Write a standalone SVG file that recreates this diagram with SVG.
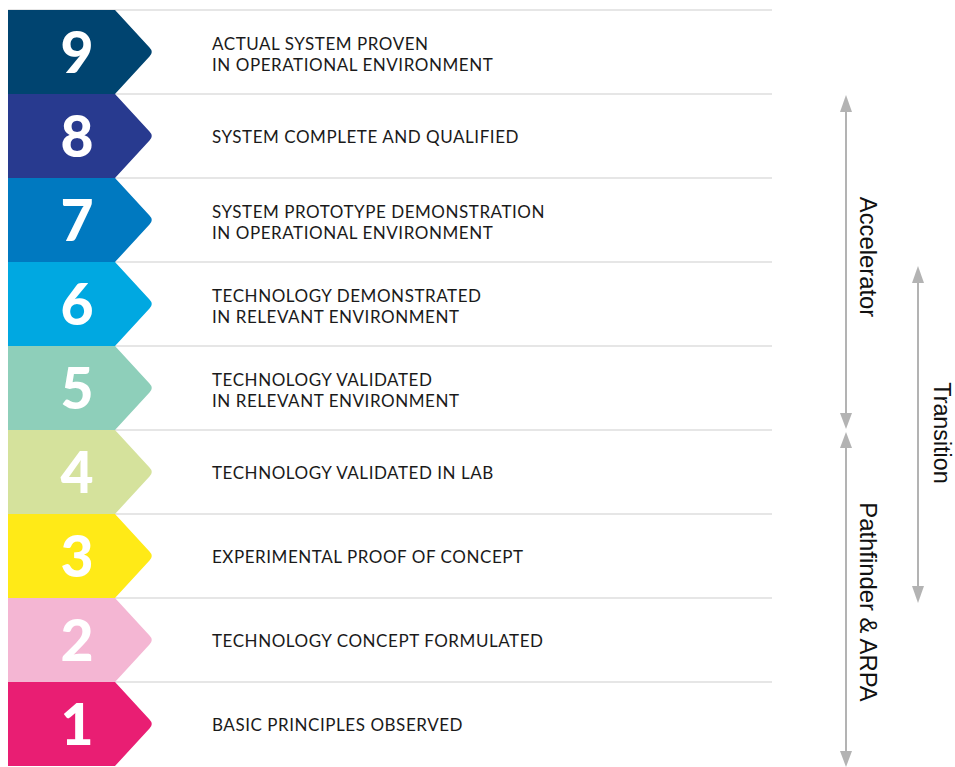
<svg xmlns="http://www.w3.org/2000/svg" width="955" height="767" viewBox="0 0 955 767">
<defs>
<style>
.sep{stroke:#e6e6e6;stroke-width:2}
.num{font-family:Lato,"Liberation Sans",sans-serif;font-weight:900;font-size:57px;fill:#fff;text-anchor:middle}
.lbl{font-family:"Lato","Liberation Sans",sans-serif;font-size:17px;letter-spacing:0.55px;fill:#1a1a1a}
.side{font-family:"Liberation Sans",Arial,sans-serif;font-size:23.8px;fill:#111;text-anchor:middle}
.arr{stroke:#b3b3b3;stroke-width:2;fill:none}
.head{fill:#b3b3b3}
</style>
<path id="chev" d="M0,0 H107 L141.5,37.5 Q146,42 141.5,46.5 L107,84 H0 Z"/>
</defs>
<rect width="955" height="767" fill="#fff"/>
<g id="separators">
<line class="sep" x1="8" y1="10" x2="772" y2="10"/>
<line class="sep" x1="8" y1="94" x2="772" y2="94"/>
<line class="sep" x1="8" y1="178" x2="772" y2="178"/>
<line class="sep" x1="8" y1="262" x2="772" y2="262"/>
<line class="sep" x1="8" y1="346" x2="772" y2="346"/>
<line class="sep" x1="8" y1="430" x2="772" y2="430"/>
<line class="sep" x1="8" y1="514" x2="772" y2="514"/>
<line class="sep" x1="8" y1="598" x2="772" y2="598"/>
<line class="sep" x1="8" y1="682" x2="772" y2="682"/>
</g>
<g id="level9" transform="translate(8,10)">
<use href="#chev" fill="#004470"/>
<text class="num" x="69" y="63">9</text>
<text class="lbl" x="204" y="40">ACTUAL SYSTEM PROVEN</text>
<text class="lbl" x="204" y="61">IN OPERATIONAL ENVIRONMENT</text>
</g>
<g id="level8" transform="translate(8,94)">
<use href="#chev" fill="#283a8f"/>
<text class="num" x="69" y="63">8</text>
<text class="lbl" x="204" y="49">SYSTEM COMPLETE AND QUALIFIED</text>
</g>
<g id="level7" transform="translate(8,178)">
<use href="#chev" fill="#0079c0"/>
<text class="num" x="69" y="63">7</text>
<text class="lbl" x="204" y="40">SYSTEM PROTOTYPE DEMONSTRATION</text>
<text class="lbl" x="204" y="61">IN OPERATIONAL ENVIRONMENT</text>
</g>
<g id="level6" transform="translate(8,262)">
<use href="#chev" fill="#00a8e1"/>
<text class="num" x="69" y="63">6</text>
<text class="lbl" x="204" y="40">TECHNOLOGY DEMONSTRATED</text>
<text class="lbl" x="204" y="61">IN RELEVANT ENVIRONMENT</text>
</g>
<g id="level5" transform="translate(8,346)">
<use href="#chev" fill="#8ecfba"/>
<text class="num" x="69" y="63">5</text>
<text class="lbl" x="204" y="40">TECHNOLOGY VALIDATED</text>
<text class="lbl" x="204" y="61">IN RELEVANT ENVIRONMENT</text>
</g>
<g id="level4" transform="translate(8,430)">
<use href="#chev" fill="#d5e29c"/>
<text class="num" x="69" y="63">4</text>
<text class="lbl" x="204" y="49">TECHNOLOGY VALIDATED IN LAB</text>
</g>
<g id="level3" transform="translate(8,514)">
<use href="#chev" fill="#ffea17"/>
<text class="num" x="69" y="63">3</text>
<text class="lbl" x="204" y="49">EXPERIMENTAL PROOF OF CONCEPT</text>
</g>
<g id="level2" transform="translate(8,598)">
<use href="#chev" fill="#f4b6d3"/>
<text class="num" x="69" y="63">2</text>
<text class="lbl" x="204" y="49">TECHNOLOGY CONCEPT FORMULATED</text>
</g>
<g id="level1" transform="translate(8,682)">
<use href="#chev" fill="#e91e73"/>
<text class="num" x="69" y="63">1</text>
<text class="lbl" x="204" y="49">BASIC PRINCIPLES OBSERVED</text>
</g>
<g id="connectors">
<line class="arr" x1="846" y1="110" x2="846" y2="414"/>
<polygon class="head" points="846,95 840,112 852,112"/>
<polygon class="head" points="846,429 840,413 852,413"/>
<line class="arr" x1="846" y1="446" x2="846" y2="752"/>
<polygon class="head" points="846,432 840,448 852,448"/>
<polygon class="head" points="846,767 840,751 852,751"/>
<line class="arr" x1="918" y1="281" x2="918" y2="588"/>
<polygon class="head" points="918,266 912,283 924,283"/>
<polygon class="head" points="918,603 912,586 924,586"/>
</g>
<g id="labels">
<text class="side" transform="translate(860,257) rotate(90)">Accelerator</text>
<text class="side" transform="translate(933.5,433) rotate(90)" style="font-size:23.3px">Transition</text>
<text class="side" transform="translate(860,602) rotate(90)">Pathfinder &amp; ARPA</text>
</g>
</svg>
